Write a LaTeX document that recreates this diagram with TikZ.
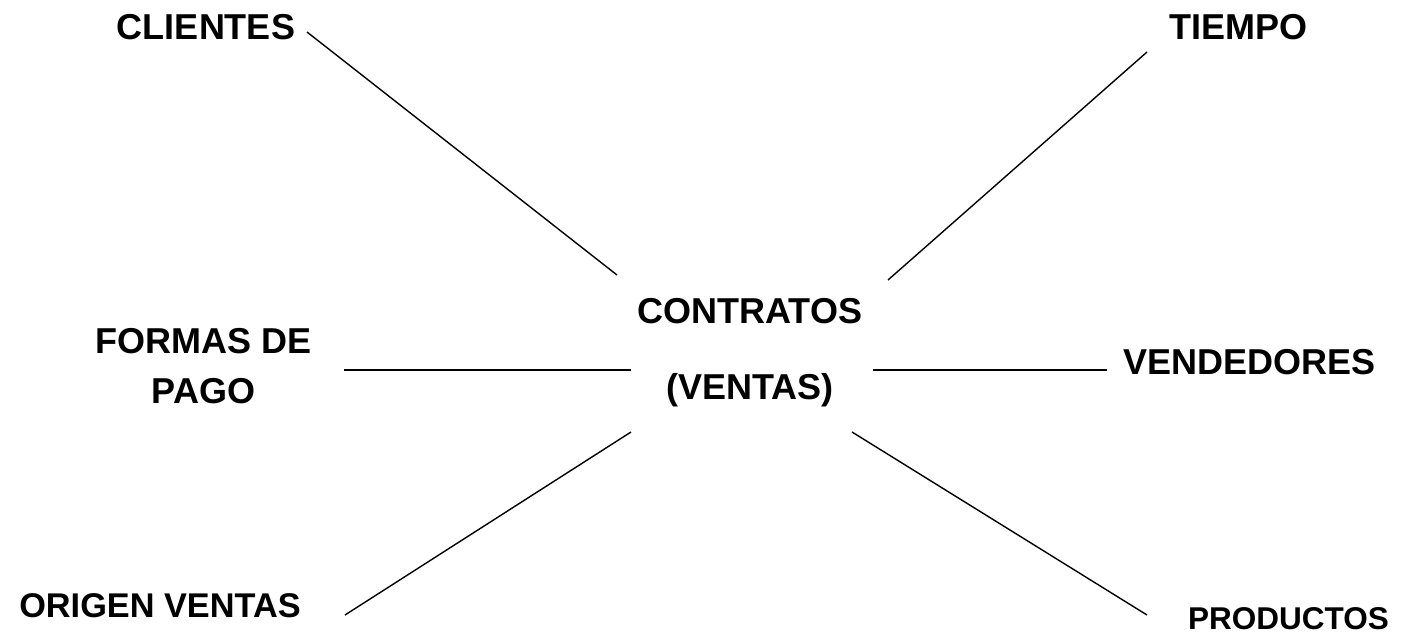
\documentclass[tikz,border=0pt]{standalone}
\usepackage{fontspec}
\setmainfont{Liberation Sans}
\begin{document}
\begin{tikzpicture}[x=1pt,y=-1pt,
  lbl/.style={inner sep=0pt,anchor=base,font=\fontsize{36}{40}\selectfont\bfseries},
  conn/.style={line width=1.4pt,black}]
\useasboundingbox[fill=white] (0,0) rectangle (1403,635);
% labels
\node[lbl] (clientes) at (206,39) {CLIENTES};
\node[lbl] (tiempo) at (1238.5,39) {TIEMPO};
\node[lbl] (formas1) at (203.5,353) {FORMAS DE};
\node[lbl] (formas2) at (203.5,403) {PAGO};
\node[lbl] (contratos) at (750,323) {CONTRATOS};
\node[lbl] (ventas) at (750,399) {(VENTAS)};
\node[lbl] (vendedores) at (1249.5,374) {VENDEDORES};
\node[lbl,font=\fontsize{34.3}{38}\selectfont\bfseries] (origen) at (160,617) {ORIGEN VENTAS};
\node[lbl,font=\fontsize{31.5}{35}\selectfont\bfseries] (productos) at (1288.5,629) {PRODUCTOS};
% connector end points
\coordinate (c1) at (307,32);   \coordinate (c2) at (617,275);
\coordinate (t1) at (1147,52);  \coordinate (t2) at (888,280);
\coordinate (f1) at (344,370);  \coordinate (f2) at (631,370);
\coordinate (v1) at (1107,370); \coordinate (v2) at (873,370);
\coordinate (o1) at (345,615);  \coordinate (o2) at (631,432);
\coordinate (p1) at (1147,615); \coordinate (p2) at (852,432);
\draw[conn] (c1) -- (c2);
\draw[conn] (t1) -- (t2);
\draw[conn] (f1) -- (f2);
\draw[conn] (v1) -- (v2);
\draw[conn] (o1) -- (o2);
\draw[conn] (p1) -- (p2);
\end{tikzpicture}
\end{document}
